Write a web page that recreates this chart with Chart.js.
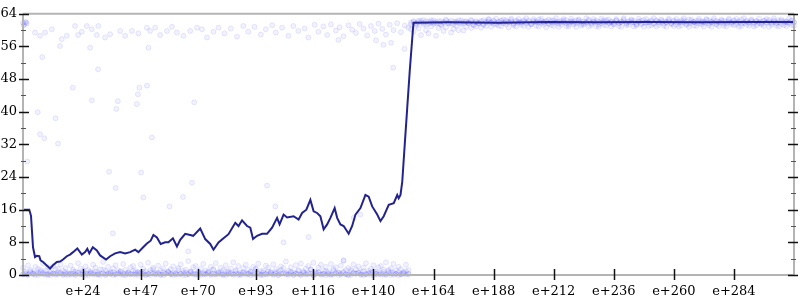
<!DOCTYPE html>
<html>
<head>
<meta charset="utf-8">
<script src="https://cdn.jsdelivr.net/npm/chart.js@4"></script>
<style>
  html, body { margin: 0; padding: 0; background: #fff; }
  #wrap { width: 800px; height: 300px; }
</style>
</head>
<body>
<div id="wrap"><canvas id="returnChart"></canvas></div>
<script>
// x axis tick values (labels shown as e+N)
const xTicks = [24, 47, 70, 93, 116, 140, 164, 188, 212, 236, 260, 284];

// smoothed return (line)
const lineEp = [0, 2.5, 3.2, 4, 4.8, 5.5, 6.5, 7, 8, 10.8, 12, 13.5, 14.8, 16, 17.5, 18.8, 20, 21.7, 23.5, 24.8,
  25.7, 26.5, 27.9, 29.5, 30.8, 33.2, 34.8, 36.8, 38.8, 40.8, 42.8, 44.8, 46.1, 48, 49.5, 51, 52.1, 53.5, 55, 56.8,
  58.1, 59.9, 61.5, 62.8, 64.8, 66.8, 68, 70.8, 72.8, 74.8, 76.1, 78.1, 80.1, 82.1, 84.8, 86.1, 87.5, 89.5, 90.8, 91.9,
  93.5, 95.5, 97.5, 99.5, 101.5, 102.5, 104.1, 105.5, 108.1, 110.1, 111.5, 113.2, 114.8, 116.1, 117.5, 118.8, 120.1, 121.5, 122.8, 124.5,
  125.5, 126.8, 128.1, 130.1, 131.5, 132.8, 134.8, 136.8, 138.1, 139.5, 141.5, 142.8, 144.1, 146.1, 148.1, 149.5, 150.1, 150.8, 151.5, 152.5,
  153.5, 154.5, 155.5, 156, 170, 190, 210, 230, 250, 270, 290, 308];
const lineVal = [16, 16, 14.5, 6.8, 4.4, 4.7, 4.6, 3.6, 3.2, 1.6, 2.4, 3.2, 3.3, 3.8, 4.6, 5, 5.6, 6.5, 5, 5.6,
  6.4, 5.3, 6.8, 6, 4.8, 3.8, 4.6, 5.3, 5.6, 5.3, 5.6, 6.2, 5.6, 6.8, 7.7, 8.4, 9.8, 9.2, 7.6, 8,
  8, 9, 7, 8.6, 10.1, 9.8, 9.6, 11.4, 8.8, 7.6, 6.2, 8, 9, 10, 12.8, 12, 13.4, 12, 11.6, 8.8,
  9.6, 10.1, 10.1, 11.6, 14, 12.4, 14.8, 14.1, 14.4, 13.6, 15.2, 16, 18.4, 15.6, 15.2, 14.4, 11.2, 12.4, 14, 16.4,
  14, 12.4, 12, 10.1, 12, 14.8, 16.4, 19.6, 19.2, 16.8, 14.8, 13.2, 14.4, 17.2, 17.6, 19.6, 18.8, 19.6, 22.8, 32,
  41, 50, 58, 61.8, 61.9, 61.8, 62, 61.9, 62, 61.9, 62, 62];

// raw returns, first sample per episode (index = episode 0..308)
const rawA = [
  0.2,0.5,0.1,0.9,0.3,0.0,0.6,1.2,0.2,0.4,0.0,0.8,0.3,0.1,1.5,0.4,0.2,0.7,0.0,0.3,
  0.9,0.1,0.5,0.2,1.1,0.0,0.4,0.6,0.2,0.8,0.1,0.3,1.3,0.0,0.5,0.2,0.7,0.1,0.4,0.9,
  0.0,0.3,0.6,0.2,1.0,0.1,0.5,0.3,0.8,0.0,0.2,0.6,1.4,0.1,0.4,0.0,0.7,0.3,0.9,0.2,
  0.5,0.1,1.2,0.3,0.0,0.6,0.2,0.8,0.4,0.1,1.0,0.0,0.5,0.3,0.7,0.2,1.3,0.1,0.4,0.6,
  0.0,0.9,0.2,0.5,0.1,1.1,0.3,0.0,0.7,0.4,0.2,0.8,0.1,1.5,0.3,0.0,0.6,0.2,0.9,0.4,
  0.1,0.7,0.0,1.2,0.3,0.5,0.2,0.8,0.0,0.4,1.0,0.1,0.6,0.3,0.2,1.4,0.0,0.5,0.7,0.1,
  0.3,0.9,0.2,0.0,1.1,0.4,0.6,0.1,0.8,0.2,0.0,1.3,0.5,0.3,0.7,0.1,0.9,0.2,0.4,0.0,
  1.0,0.3,0.6,0.1,0.8,0.2,1.2,0.0,0.5,0.3,0.7,0.1,0.4,0.9,0.2,
  61.4,62.0,61.5,62.3,61.8,62.5,61.3,62.1,61.9,62.4,61.6,62.2,61.4,62.0,62.6,61.7,62.3,61.5,62.1,61.8,
  62.4,61.6,62.2,61.9,62.5,61.4,62.0,61.7,62.3,61.5,62.1,62.6,61.8,62.2,61.3,62.0,62.4,61.7,62.1,61.9,
  62.5,61.5,62.2,61.8,62.0,62.4,61.6,62.1,61.4,62.3,61.9,62.6,61.7,62.0,62.2,61.5,62.4,61.8,62.1,61.6,
  62.3,61.9,62.5,61.4,62.0,62.2,61.7,62.4,61.5,62.1,61.8,62.6,61.6,62.0,62.3,61.4,62.2,61.9,62.5,61.7,
  62.1,61.5,62.4,61.8,62.0,62.6,61.6,62.2,61.9,62.3,61.4,62.1,61.7,62.5,61.8,62.0,62.4,61.5,62.2,61.9,
  62.3,61.6,62.0,62.5,61.7,62.2,61.4,62.1,61.9,62.4,61.5,62.6,61.8,62.0,62.3,61.6,62.2,61.9,62.5,61.7,
  62.0,62.4,61.5,62.1,61.8,62.3,61.6,62.5,61.9,62.2,61.4,62.0,62.6,61.7,62.1,61.8,62.4,61.5,62.2,62.0,
  61.6,62.3,61.9,62.5,61.7,62.1,61.8,62.4,61.5,62.2,62.0,61.6,62.3,61.9
];

// raw returns, second sample per episode
const rawB = [
  1.8,0.9,2.4,1.2,0.6,2.0,1.5,0.8,2.8,1.1,1.9,0.5,2.2,1.4,0.7,2.6,1.0,1.7,0.4,2.3,
  1.3,0.8,2.9,1.6,0.5,2.1,1.2,0.9,2.5,1.8,0.6,1.4,3.2,1.0,2.0,0.7,1.6,2.4,1.1,0.8,
  2.7,1.3,0.6,1.9,2.2,1.0,0.7,2.5,1.5,0.9,3.0,1.2,1.8,0.6,2.3,1.1,1.6,2.8,0.8,1.4,
  2.1,0.5,1.7,2.6,1.0,1.3,3.4,0.9,1.9,2.2,0.6,1.5,2.7,1.1,0.8,2.0,1.4,2.9,0.7,1.8,
  1.2,2.4,0.9,1.6,3.1,1.0,2.2,0.6,1.7,2.5,1.3,0.8,2.0,1.5,2.8,0.9,1.1,2.3,1.8,0.7,
  2.6,1.4,0.8,2.1,1.7,3.3,1.0,1.9,0.6,2.4,1.2,2.8,0.9,1.6,2.2,1.3,3.0,0.7,1.8,2.5,
  1.1,2.0,0.8,2.7,1.5,1.9,0.6,2.3,3.5,1.2,1.7,0.9,2.6,1.4,2.1,0.7,1.8,2.9,1.0,1.5,
  2.4,0.8,1.9,2.2,1.3,3.1,0.9,1.6,2.7,1.1,2.0,1.4,0.7,2.5,1.2,
  60.2,59.6,61.0,60.4,58.8,61.3,60.0,59.2,60.9,61.5,58.6,60.5,61.2,59.8,60.7,61.6,59.4,60.3,61.1,60.0,
  61.4,59.9,60.8,61.7,60.5,61.2,60.9,61.8,60.6,61.3,61.0,62.7,60.8,61.5,62.8,61.1,60.9,62.6,61.4,60.7,
  62.8,61.2,60.9,62.7,61.3,61.0,62.9,60.8,61.5,62.7,61.1,60.9,62.8,61.4,60.7,62.6,61.2,61.0,62.9,60.8,
  61.3,62.7,61.0,60.9,62.8,61.4,60.8,62.6,61.1,61.3,62.9,60.9,61.2,62.7,61.0,60.8,62.8,61.3,61.1,62.6,
  60.9,61.4,62.7,61.0,60.8,62.9,61.2,61.3,62.6,60.9,61.1,62.8,61.4,60.8,62.7,61.0,61.2,62.9,60.9,61.3,
  62.6,61.1,60.8,62.8,61.4,61.0,62.7,60.9,61.2,62.9,61.3,60.8,62.6,61.1,61.0,62.8,61.4,60.9,62.7,61.2,
  60.8,62.9,61.3,61.0,62.6,61.1,60.9,62.8,61.4,61.2,62.7,60.8,61.0,62.9,61.3,61.1,62.6,60.9,61.2,62.8,
  61.4,61.0,62.7,60.8,61.3,62.9,61.1,60.9,62.6,61.2,61.0,62.8,61.3,61.1
];

// raw returns, third sample per episode (these sit on the dense bands)
const rawC = [
  0.1,0.3,0.0,0.5,0.2,0.4,0.0,0.3,0.6,0.1,0.2,0.0,0.4,0.3,0.1,0.5,0.0,0.2,0.4,0.1,
  0.3,0.0,0.6,0.2,0.1,0.4,0.0,0.3,0.5,0.1,0.2,0.0,0.4,0.1,0.3,0.6,0.0,0.2,0.5,0.1,
  0.4,0.0,0.2,0.3,0.1,0.5,0.0,0.6,0.2,0.1,0.3,0.0,0.4,0.2,0.5,0.1,0.0,0.3,0.6,0.2,
  0.0,0.4,0.1,0.3,0.5,0.0,0.2,0.6,0.1,0.3,0.0,0.4,0.2,0.1,0.5,0.0,0.3,0.2,0.6,0.1,
  0.2,0.0,0.5,0.3,0.1,0.4,0.0,0.2,0.6,0.1,0.3,0.0,0.5,0.2,0.4,0.1,0.0,0.3,0.2,0.6,
  0.1,0.4,0.0,0.3,0.5,0.2,0.0,0.6,0.1,0.3,0.2,0.0,0.4,0.1,0.5,0.3,0.0,0.2,0.6,0.1,
  0.3,0.0,0.4,0.2,0.1,0.5,0.0,0.3,0.6,0.2,0.1,0.0,0.4,0.3,0.5,0.1,0.0,0.2,0.4,0.6,
  0.0,0.3,0.1,0.5,0.2,0.0,0.4,0.6,0.1,0.3,0.0,0.2,0.5,0.1,0.3,
  61.9,62.2,61.7,62.0,62.3,61.8,62.1,61.6,62.4,61.9,62.0,61.7,62.2,61.8,62.3,62.0,61.6,62.1,61.9,62.4,
  61.8,62.1,62.0,61.7,62.3,61.9,62.2,61.6,62.0,62.4,61.8,62.1,61.9,62.3,61.7,62.0,62.2,61.8,62.4,61.9,
  62.1,61.7,62.3,62.0,61.8,62.2,61.9,62.4,61.6,62.0,62.1,61.8,62.3,61.9,62.2,61.7,62.0,62.4,61.8,62.1,
  61.9,62.3,61.7,62.0,62.2,61.8,62.4,61.9,62.1,61.6,62.0,62.3,61.8,62.2,61.9,62.0,61.7,62.4,62.1,61.8,
  62.0,61.9,62.3,61.7,62.1,62.2,61.8,62.0,62.4,61.9,61.6,62.1,62.3,61.8,62.0,61.9,62.2,61.7,62.4,62.0,
  61.8,62.2,61.9,62.1,61.7,62.3,62.0,61.8,62.4,61.9,62.1,61.6,62.2,62.0,61.8,62.3,61.9,62.1,61.7,62.4,
  62.0,61.8,62.2,61.9,62.3,61.7,62.1,62.0,61.8,62.4,61.9,62.2,61.6,62.0,62.3,61.8,62.1,61.9,62.2,61.7,
  62.0,62.3,61.8,62.1,61.9,62.4,61.7,62.0,62.2,61.8,62.1,61.9,62.3,62.0
];

// scattered high / mid returns before the jump
const sparseEp = [0, 0.3, 0.5, 1, 1.2, 1.5,
  4.8, 8.8, 11.5, 6.8, 15.5, 17.5, 20.8, 22, 23.5, 25.5, 27.5, 30.1, 29.5, 32.8, 34.8, 38.8, 40.8, 43.5, 46.1,
  49.5, 50.8, 52.8, 54.8, 57.5, 59.5, 61.5, 64.1, 66.8, 69.5, 71.5, 73.5, 76.1, 78.1, 14.8, 26.8, 50.1,
  80.5, 83, 85.5, 88, 90, 92.5, 95, 97, 99.5, 101, 103.5, 106, 108, 110, 112.5, 114, 116.5, 118, 120, 121.5,
  123, 125, 126.5, 128, 130, 131.5, 133, 134.5, 136, 137.5, 139, 140.5, 142, 143.5, 145, 146.5, 148, 149.5,
  151, 152.5, 154, 141, 147, 126, 144, 152.4, 147.9,
  30, 7.7, 19.9, 27.5, 37.9, 37.3, 45.9, 46.5, 49.5, 45.5, 68.4, 5.9, 13, 6.8, 8.5, 14, 51.5, 1.7, 34.4, 47.2,
  37, 48.1, 63.9, 67.5, 58.5, 35.9, 66, 97.5, 100.8, 104.1, 128.1, 134.8, 114.1, 132.1];
const sparseVal = [61.8, 61.2, 61.4, 62, 61.9, 61.6,
  59.4, 59.4, 60.2, 58.6, 57.8, 58.6, 61, 58.8, 59.6, 61, 60.2, 61, 58.8, 58.2, 59, 59.8, 58.6, 59.8, 59.2,
  60.6, 59.8, 60.6, 58.8, 59.8, 60.8, 59.4, 58.6, 59.8, 60.6, 60.2, 58.2, 59.6, 60.6, 56.1, 55.7, 55.7,
  59.2, 60.4, 58.4, 61, 59.6, 60.8, 58.9, 60.2, 61.2, 59.4, 60.6, 58.6, 61, 59.8, 60.4, 58.2, 61.3, 59.6, 60.9, 58.8,
  61.4, 59.9, 60.7, 58.5, 61.2, 60.1, 59.3, 61.5, 60.4, 58.7, 61, 59.8, 61.6, 60.3, 58.9, 61.3, 60, 61.7,
  59.5, 61.1, 60.6, 57.5, 56.9, 57.6, 56.4, 55.4, 50.8,
  50.4, 53.4, 45.9, 42.8, 42.6, 40.7, 44.3, 45.9, 46.4, 41.9, 42.3, 39.9, 38.4, 34.5, 33.5, 32.2, 33.7, 27.8, 25.3, 25.1,
  21.3, 19, 19.1, 22.6, 16.8, 10.2, 5.8, 21.9, 16.8, 8, 3.6, 14.8, 9.3, 14];

const rawPoints = [];
[rawA, rawB, rawC].forEach(arr => arr.forEach((v, i) => rawPoints.push({x: i, y: v})));
sparseEp.forEach((e, i) => rawPoints.push({x: e, y: sparseVal[i]}));

const linePoints = lineEp.map((e, i) => ({x: e, y: lineVal[i]}));

const FONT = "'DejaVu Serif', serif";

// frame + crossing tick marks, positioned from the chart's own scales
const frameTicks = {
  id: 'frameTicks',
  afterDraw(chart) {
    const {ctx, chartArea: a, scales: {x, y}} = chart;
    ctx.save();
    ctx.strokeStyle = '#b4b4b4';
    ctx.lineWidth = 2;
    ctx.beginPath();
    ctx.moveTo(a.left, a.top); ctx.lineTo(a.right, a.top);
    ctx.moveTo(a.left, a.top); ctx.lineTo(a.left, a.bottom);
    ctx.moveTo(a.right, a.top); ctx.lineTo(a.right, a.bottom);
    ctx.moveTo(a.left, a.bottom); ctx.lineTo(a.right, a.bottom);
    ctx.stroke();

    for (let v = 0; v <= 64; v += 4) {
      const py = Math.round(y.getPixelForValue(v)) + 0.5;
      const major = v % 8 === 0;
      ctx.strokeStyle = major ? '#111' : '#555';
      ctx.lineWidth = major ? 1.5 : 1;
      ctx.beginPath();
      if (major) {
        ctx.moveTo(a.left - 4, py); ctx.lineTo(a.left + 6, py);
        ctx.moveTo(a.right - 6, py); ctx.lineTo(a.right + 4, py);
      } else {
        ctx.moveTo(a.left - 2, py); ctx.lineTo(a.left + 3, py);
        ctx.moveTo(a.right - 3, py); ctx.lineTo(a.right + 2, py);
      }
      ctx.stroke();
    }
    ctx.strokeStyle = '#111';
    ctx.lineWidth = 1.5;
    xTicks.forEach(v => {
      const px = Math.round(x.getPixelForValue(v)) + 0.5;
      ctx.beginPath();
      ctx.moveTo(px, a.bottom - 6); ctx.lineTo(px, a.bottom + 5);
      ctx.stroke();
    });
    ctx.restore();
  }
};

new Chart(document.getElementById('returnChart').getContext('2d'), {
  data: {
    datasets: [{
      type: 'scatter',
      label: 'raw',
      data: rawPoints,
      pointRadius: 2.5,
      pointBackgroundColor: 'rgba(0, 0, 255, 0.05)',
      pointBorderColor: 'rgba(0, 0, 255, 0.09)',
      pointBorderWidth: 1,
      clip: false,
      order: 2
    }, {
      type: 'line',
      label: 'smoothed',
      data: linePoints,
      borderColor: '#23238f',
      borderWidth: 2,
      pointRadius: 0,
      tension: 0,
      fill: false,
      order: 1
    }]
  },
  options: {
    responsive: true,
    maintainAspectRatio: false,
    animation: false,
    layout: { padding: { top: 7, right: 6, left: 0, bottom: 0 } },
    plugins: { legend: { display: false }, tooltip: { enabled: false } },
    scales: {
      x: {
        type: 'linear',
        min: 0,
        max: 308,
        afterBuildTicks: s => { s.ticks = xTicks.map(v => ({value: v})); },
        afterFit: s => { s.height = 25; },
        grid: { display: false, drawTicks: false },
        border: { display: false },
        ticks: {
          autoSkip: false,
          maxRotation: 0,
          padding: 9,
          color: '#000',
          font: { family: FONT, size: 13 },
          callback: v => 'e+' + v
        }
      },
      y: {
        min: 0,
        max: 64,
        afterFit: s => { s.width = 23; },
        grid: { display: false, drawTicks: false },
        border: { display: false },
        ticks: {
          stepSize: 8,
          padding: 6,
          color: '#000',
          font: { family: FONT, size: 13 }
        }
      }
    }
  },
  plugins: [frameTicks]
});
</script>
</body>
</html>
